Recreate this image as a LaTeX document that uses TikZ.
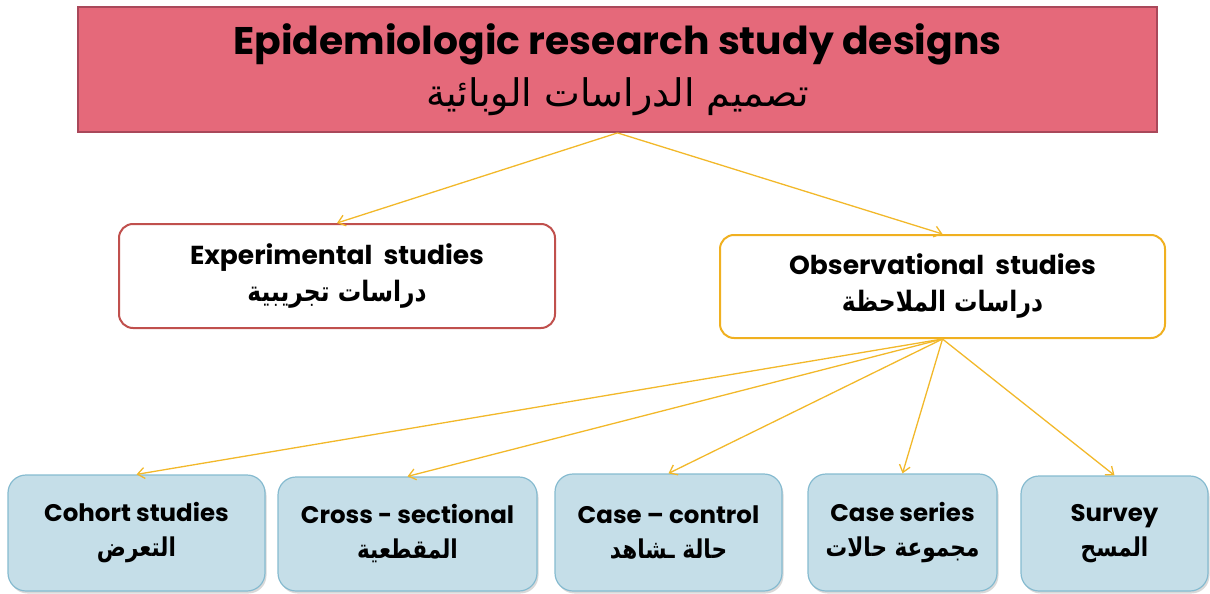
\documentclass[tikz,border=0pt]{standalone}
\usepackage{fontspec}
\setmainfont{Poppins}
\newfontfamily\arabicfont[Script=Arabic]{DejaVu Sans}
\TeXXeTstate=1
\usetikzlibrary{arrows.meta,shadows}
\definecolor{topfill}{HTML}{E5697A}
\definecolor{topdraw}{HTML}{A9485A}
\definecolor{expdraw}{HTML}{C0504D}
\definecolor{obsdraw}{HTML}{F0B020}
\definecolor{arrowc}{HTML}{F2B82A}
\definecolor{leaffill}{HTML}{C5DEE8}
\definecolor{leafdraw}{HTML}{86BBD0}
\newcommand\en[1]{\scalebox{1.02}[1]{\bfseries #1}}
\newcommand\ar[1]{{\arabicfont\bfseries\scalebox{0.9}[1.08]{\beginR #1\endR}}}
\begin{document}
\begin{tikzpicture}[x=1pt,y=-1pt,
  box/.style={align=center, inner sep=0pt},
  topbox/.style={box, draw=topdraw, fill=topfill, line width=1.8pt,
    font=\fontsize{38.5}{52}\selectfont},
  midbox/.style={box, fill=white, line width=2pt, rounded corners=14pt,
    font=\fontsize{26}{37}\selectfont},
  leaf/.style={box, draw=leafdraw, fill=leaffill, line width=1.2pt,
    rounded corners=18pt, font=\fontsize{24}{35}\selectfont,
    drop shadow={shadow xshift=1.5pt, shadow yshift=-2.5pt, opacity=0.3}},
  link/.style={draw=arrowc, line width=1.3pt,
    -{Straight Barb[length=7pt, width=11pt, line width=1.3pt]}}
]
\useasboundingbox (0,0) rectangle (1210,594);
\node[topbox, minimum width=1079pt, minimum height=125pt] (top) at (617.5,69.5)
  {\en{Epidemiologic research study designs}\\
   {\arabicfont\fontsize{38}{52}\selectfont\beginR تصميم الدراسات الوبائية\endR}};
\node[midbox, draw=expdraw, minimum width=436pt, minimum height=104pt] (exp) at (337,276)
  {\en{Experimental\ \ studies}\\ \ar{دراسات تجريبية}};
\node[midbox, draw=obsdraw, minimum width=445pt, minimum height=103pt] (obs) at (942.5,286.5)
  {\en{Observational\ \ studies}\\ \ar{دراسات الملاحظة}};
\node[leaf, minimum width=257pt, minimum height=116pt] (coh) at (136.5,533)
  {\en{Cohort studies}\\ \ar{التعرض}};
\node[leaf, minimum width=259pt, minimum height=114pt] (cross) at (407.5,534)
  {\en{Cross - sectional}\\ \ar{المقطعية}};
\node[leaf, minimum width=227pt, minimum height=117pt] (cc) at (668.5,532.5)
  {\en{Case -- control}\\ \ar{حالة ـشاهد}};
\node[leaf, minimum width=189pt, minimum height=117pt] (cs) at (902.5,532.5)
  {\en{Case series}\\ \ar{مجموعة حالات}};
\node[leaf, minimum width=187pt, minimum height=115pt] (sur) at (1114.5,533.5)
  {\en{Survey}\\ \ar{المسح}};
\draw[link] (top.south) -- (exp.north);
\draw[link] (top.south) -- (obs.north);
\foreach \t in {coh,cross,cc,cs,sur}
  \draw[link] (obs.south) -- (\t.north);
\end{tikzpicture}
\end{document}
